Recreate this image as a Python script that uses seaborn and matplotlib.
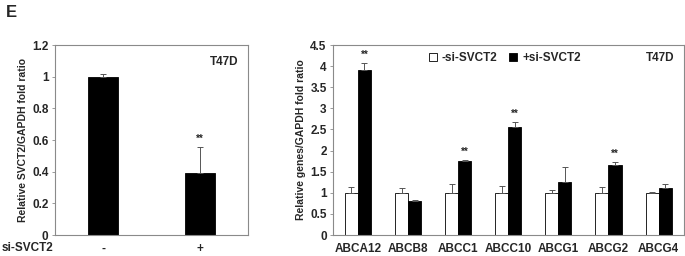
import pandas as pd
import numpy as np
import matplotlib
matplotlib.use("Agg")
import matplotlib.pyplot as plt
import seaborn as sns
from matplotlib.patches import Patch

# data
treat_labels = ["-", "+"]
svct2_mean = [1.0, 0.39]
svct2_err = [0.02, 0.165]
svct2_sig = ["", "**"]

genes = ["ABCA12", "ABCB8", "ABCC1", "ABCC10", "ABCG1", "ABCG2", "ABCG4"]
ctrl_mean = [1.0, 1.0, 1.0, 1.0, 1.0, 1.0, 1.0]
ctrl_err = [0.14, 0.12, 0.2, 0.16, 0.07, 0.14, 0.01]
si_mean = [3.92, 0.8, 1.76, 2.55, 1.25, 1.67, 1.12]
si_err = [0.15, 0.03, 0.02, 0.13, 0.37, 0.06, 0.08]
si_sig = ["**", "", "**", "**", "", "**", ""]
groups = ["-si-SVCT2", "+si-SVCT2"]

sns.set_style("white")
plt.rcParams["font.family"] = ["Liberation Sans", "DejaVu Sans"]
plt.rcParams["font.weight"] = "bold"
plt.rcParams["axes.labelweight"] = "bold"

fig = plt.figure(figsize=(6.85, 2.56), dpi=100)
ax1 = fig.add_axes([0.080, 0.082, 0.282, 0.742])
ax2 = fig.add_axes([0.486, 0.082, 0.512, 0.742])

spine_col = "#8a8a8a"
fs = 8.5

# ---- left panel
df1 = pd.DataFrame({"treat": treat_labels, "val": svct2_mean})
sns.barplot(data=df1, x="treat", y="val", color="black", width=0.31,
            edgecolor="black", linewidth=0.6, errorbar=None, ax=ax1)
for i, p in enumerate(ax1.patches):
    xc = p.get_x() + p.get_width() / 2
    ax1.errorbar(xc, svct2_mean[i], yerr=[[0], [svct2_err[i]]], fmt="none",
                 ecolor="#555555", elinewidth=0.7, capsize=2.5, capthick=0.7)
    if svct2_sig[i]:
        ax1.text(xc, svct2_mean[i] + svct2_err[i] + 0.02, svct2_sig[i],
                 ha="center", va="bottom", fontsize=7, fontweight="bold")
ax1.set_ylim(0, 1.2)
ax1.set_xlim(-0.5, 1.5)
ax1.set_yticks([0, 0.2, 0.4, 0.6, 0.8, 1.0, 1.2])
ax1.set_yticklabels(["0", "0.2", "0.4", "0.6", "0.8", "1", "1.2"])
ax1.set_xlabel("")
ax1.set_ylabel("Relative SVCT2/GAPDH fold ratio", fontsize=7.5, labelpad=3)
ax1.text(0.95, 0.91, "T47D", transform=ax1.transAxes, ha="right", va="center",
         fontsize=fs, fontweight="bold")

# ---- right panel
df2 = pd.DataFrame({
    "gene": genes * 2,
    "group": [groups[0]] * len(genes) + [groups[1]] * len(genes),
    "val": ctrl_mean + si_mean,
})
sns.barplot(data=df2, x="gene", y="val", hue="group", hue_order=groups,
            palette=["white", "black"], width=0.52, edgecolor="black",
            linewidth=0.6, errorbar=None, legend=False, ax=ax2)
all_mean = ctrl_mean + si_mean
all_err = ctrl_err + si_err
all_sig = [""] * len(genes) + si_sig
bars = [p for p in ax2.patches if p.get_height() > 0]
for i, p in enumerate(bars):
    xc = p.get_x() + p.get_width() / 2
    ax2.errorbar(xc, all_mean[i], yerr=[[0], [all_err[i]]], fmt="none",
                 ecolor="#555555", elinewidth=0.7, capsize=2.5, capthick=0.7)
    if all_sig[i]:
        ax2.text(xc, all_mean[i] + all_err[i] + 0.08, all_sig[i],
                 ha="center", va="bottom", fontsize=7, fontweight="bold")
ax2.set_ylim(0, 4.5)
ax2.set_xlim(-0.5, len(genes) - 0.5)
ax2.set_yticks(np.arange(0, 4.51, 0.5))
ax2.set_yticklabels(["0", "0.5", "1", "1.5", "2", "2.5", "3", "3.5", "4", "4.5"])
ax2.set_xlabel("")
ax2.set_ylabel("Relative genes/GAPDH fold ratio", fontsize=7.5, labelpad=3)
ax2.text(0.975, 0.93, "T47D", transform=ax2.transAxes, ha="right", va="center",
         fontsize=fs, fontweight="bold")
handles = [Patch(facecolor="white", edgecolor="black", linewidth=0.6),
           Patch(facecolor="black", edgecolor="black", linewidth=0.6)]
ax2.legend(handles, groups, loc="center", bbox_to_anchor=(0.49, 0.93), ncol=2,
           frameon=False, prop={"size": fs, "weight": "bold"}, handlelength=0.7,
           handleheight=0.7, handletextpad=0.4, columnspacing=1.0, borderaxespad=0)

for ax in (ax1, ax2):
    for s in ax.spines.values():
        s.set_color(spine_col)
        s.set_linewidth(0.8)
    ax.tick_params(axis="y", which="both", left=True, length=2.5, width=0.6,
                   color=spine_col, labelsize=fs, pad=2)
    ax.tick_params(axis="x", bottom=False, labelsize=fs, pad=2)
    for lab in ax.get_xticklabels() + ax.get_yticklabels():
        lab.set_fontweight("bold")

fig.text(0.002, 0.03, "si-SVCT2", fontsize=fs, fontweight="bold", ha="left", va="center")
fig.text(0.008, 0.95, "E", fontsize=12, fontweight="bold", ha="left", va="center")

fig.savefig("out.png", dpi=100)
